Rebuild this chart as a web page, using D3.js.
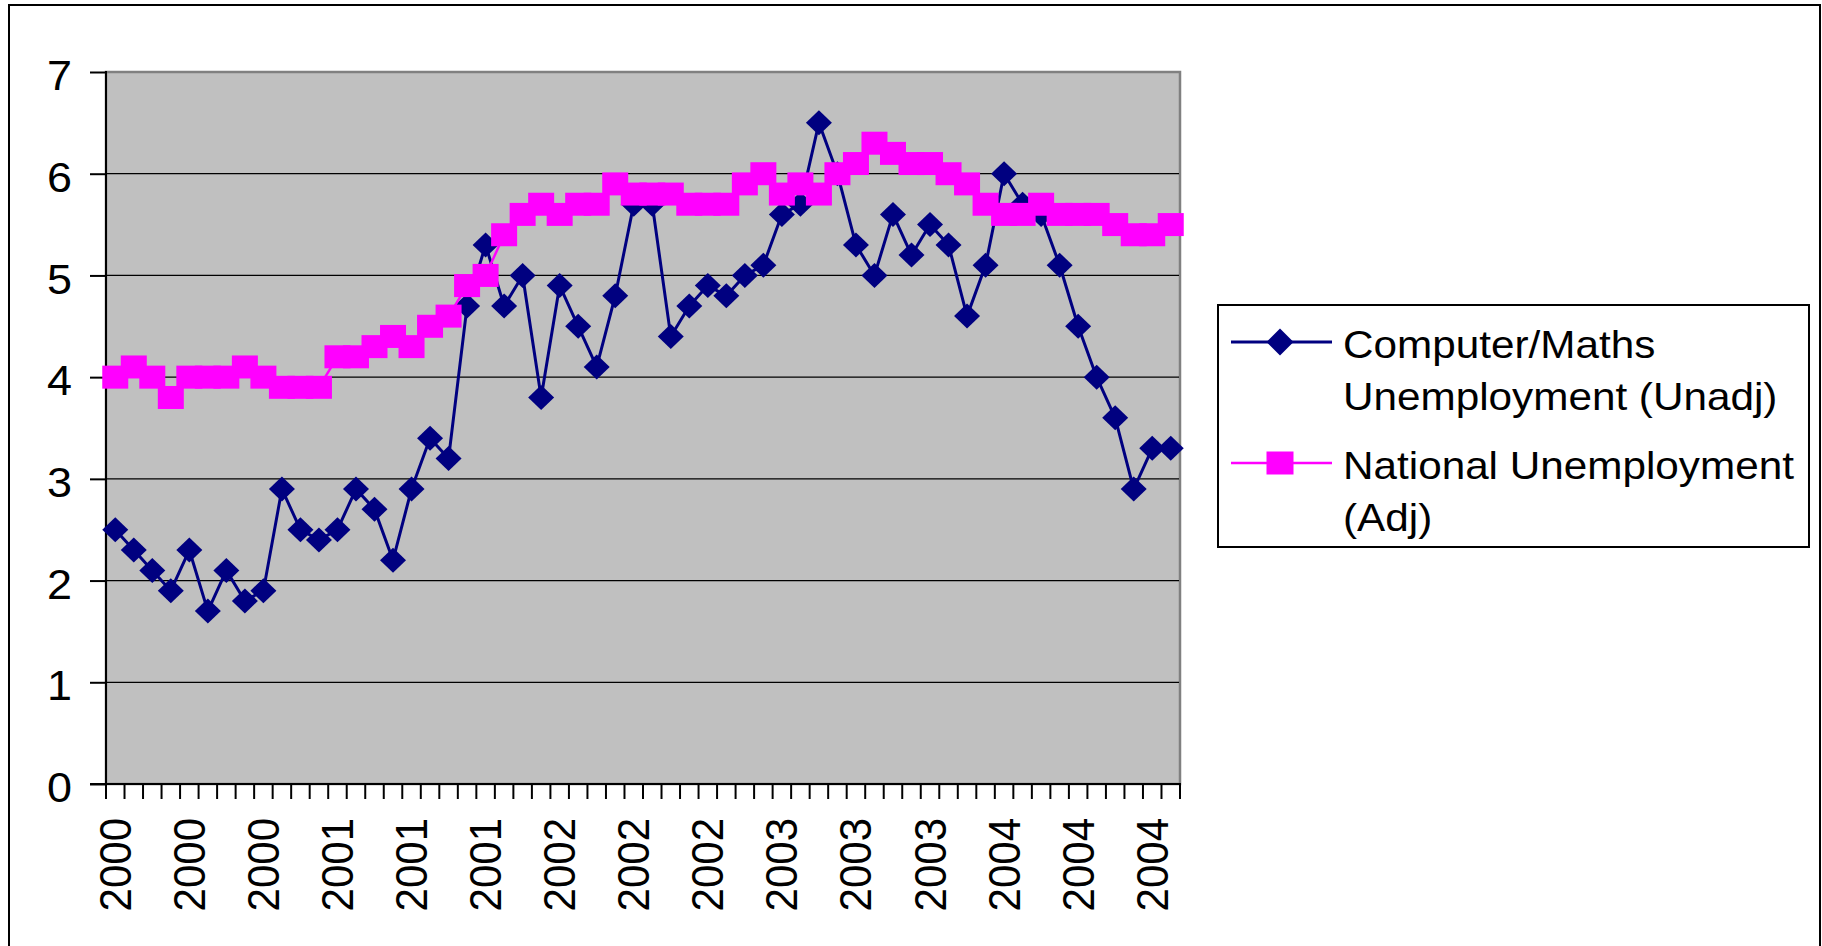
<!DOCTYPE html>
<html lang="en">
<head>
<meta charset="UTF-8">
<title>Computer/Maths vs National Unemployment</title>
<script src="https://d3js.org/d3.v7.min.js"></script>
<style>
    body { margin: 0; background: #fff; }
    svg text { font-family: "Liberation Sans", Arial, sans-serif; fill: #000; }
</style>
</head>
<body>
<svg width="1822" height="946"></svg>
<script>
// one category per month, Jan 2000 .. Oct 2004
var months = [
    "2000","2000","2000","2000","2000","2000","2000","2000","2000","2000","2000","2000",
    "2001","2001","2001","2001","2001","2001","2001","2001","2001","2001","2001","2001",
    "2002","2002","2002","2002","2002","2002","2002","2002","2002","2002","2002","2002",
    "2003","2003","2003","2003","2003","2003","2003","2003","2003","2003","2003","2003",
    "2004","2004","2004","2004","2004","2004","2004","2004","2004","2004"
];
var computerMaths = [
    2.5, 2.3, 2.1, 1.9, 2.3, 1.7, 2.1, 1.8, 1.9, 2.9, 2.5, 2.4,
    2.5, 2.9, 2.7, 2.2, 2.9, 3.4, 3.2, 4.7, 5.3, 4.7, 5.0, 3.8,
    4.9, 4.5, 4.1, 4.8, 5.7, 5.7, 4.4, 4.7, 4.9, 4.8, 5.0, 5.1,
    5.6, 5.7, 6.5, 6.0, 5.3, 5.0, 5.6, 5.2, 5.5, 5.3, 4.6, 5.1,
    6.0, 5.7, 5.6, 5.1, 4.5, 4.0, 3.6, 2.9, 3.3, 3.3
];
var national = [
    4.0, 4.1, 4.0, 3.8, 4.0, 4.0, 4.0, 4.1, 4.0, 3.9, 3.9, 3.9,
    4.2, 4.2, 4.3, 4.4, 4.3, 4.5, 4.6, 4.9, 5.0, 5.4, 5.6, 5.7,
    5.6, 5.7, 5.7, 5.9, 5.8, 5.8, 5.8, 5.7, 5.7, 5.7, 5.9, 6.0,
    5.8, 5.9, 5.8, 6.0, 6.1, 6.3, 6.2, 6.1, 6.1, 6.0, 5.9, 5.7,
    5.6, 5.6, 5.7, 5.6, 5.6, 5.6, 5.5, 5.4, 5.4, 5.5
];
var yTicks = [0, 1, 2, 3, 4, 5, 6, 7];
var labelEvery = 4;
var legendLines = [
    ["Computer/Maths", "Unemployment (Unadj)"],
    ["National Unemployment", "(Adj)"]
];

var navy = "#000080", magenta = "#ff00ff";
var stretch = 1.07;   // the original picture is slightly wider than tall
var plot = {left: 106, right: 1180, top: 72, bottom: 784};

var svg = d3.select("svg");

var x = d3.scaleBand().domain(d3.range(months.length)).range([plot.left, plot.right]);
var y = d3.scaleLinear().domain([0, 7]).range([plot.bottom, plot.top]);
function cx(i) { return x(i) + x.bandwidth() / 2; }

// outer frame (bottom edge is off the picture)
svg.append("rect")
    .attr("x", 9).attr("y", 5)
    .attr("width", 1811).attr("height", 1000)
    .attr("fill", "#fff").attr("stroke", "#000").attr("stroke-width", 2);

// plot area
svg.append("rect")
    .attr("x", plot.left).attr("y", plot.top)
    .attr("width", plot.right - plot.left).attr("height", plot.bottom - plot.top)
    .attr("fill", "#c0c0c0").attr("stroke", "#808080").attr("stroke-width", 2.5);

// gridlines
svg.append("g").selectAll("line")
    .data(yTicks.filter(function(d){ return d > 0 && d < 7; }))
    .enter().append("line")
    .attr("x1", plot.left).attr("x2", plot.right - 1)
    .attr("y1", function(d){ return y(d); })
    .attr("y2", function(d){ return y(d); })
    .attr("stroke", "#000").attr("stroke-width", 1.3);

// y axis
var yAxis = svg.append("g")
    .attr("transform", "translate(" + plot.left + ",0)")
    .call(d3.axisLeft(y).tickValues(yTicks).tickSize(16).tickPadding(15.8).tickFormat(d3.format("d")));
yAxis.select(".domain").remove();
yAxis.attr("font-family", null).attr("font-size", 42);
yAxis.selectAll(".tick line").attr("stroke", "#000").attr("stroke-width", 2);
yAxis.selectAll(".tick text")
    .attr("dy", "0.42em")
    .attr("transform", "scale(" + stretch + ",1)");

svg.append("line")
    .attr("x1", plot.left).attr("x2", plot.left)
    .attr("y1", plot.top - 1).attr("y2", plot.bottom)
    .attr("stroke", "#000").attr("stroke-width", 2);

// x axis: ticks between categories, labels on every 4th month
var bounds = months.map(function(m, i){ return x(i); }).concat([x.range()[1]]);
svg.append("g").selectAll("line")
    .data(bounds).enter().append("line")
    .attr("x1", function(d){ return d; }).attr("x2", function(d){ return d; })
    .attr("y1", plot.bottom).attr("y2", plot.bottom + 15)
    .attr("stroke", "#000").attr("stroke-width", 2);
svg.append("line")
    .attr("x1", plot.left - 16).attr("x2", plot.right + 1)
    .attr("y1", plot.bottom).attr("y2", plot.bottom)
    .attr("stroke", "#000").attr("stroke-width", 2);

svg.append("g").selectAll("text")
    .data(months.map(function(m, i){ return {label: m, i: i}; })
        .filter(function(d){ return d.i % labelEvery === 0; }))
    .enter().append("text")
    .attr("font-size", 42)
    .attr("text-anchor", "end")
    .attr("transform", function(d){
        return "translate(" + (cx(d.i) + 15.5) + "," + (plot.bottom + 34) + ") scale(" + stretch + ",1) rotate(-90)";
    })
    .text(function(d){ return d.label; });

// series
var line = d3.line()
    .x(function(d, i){ return cx(i); })
    .y(function(d){ return y(d); });

function diamond(w, h) {
    return "M0," + (-h) + "L" + w + ",0L0," + h + "L" + (-w) + ",0Z";
}

svg.append("path").datum(computerMaths)
    .attr("d", line).attr("fill", "none")
    .attr("stroke", navy).attr("stroke-width", 3).attr("stroke-linejoin", "round");
svg.append("g").selectAll("path")
    .data(computerMaths).enter().append("path")
    .attr("d", diamond(13, 12.5))
    .attr("transform", function(d, i){ return "translate(" + cx(i) + "," + y(d) + ")"; })
    .attr("fill", navy);

svg.append("path").datum(national)
    .attr("d", line).attr("fill", "none")
    .attr("stroke", magenta).attr("stroke-width", 2.5);
svg.append("g").selectAll("rect")
    .data(national).enter().append("rect")
    .attr("x", function(d, i){ return cx(i) - 13; })
    .attr("y", function(d){ return y(d) - 11.5; })
    .attr("width", 26).attr("height", 23)
    .attr("fill", magenta);

// legend
var legend = svg.append("g");
legend.append("rect")
    .attr("x", 1218).attr("y", 305).attr("width", 591).attr("height", 242)
    .attr("fill", "#fff").attr("stroke", "#000").attr("stroke-width", 2);

var entries = legend.selectAll("g.entry")
    .data(legendLines).enter().append("g")
    .attr("class", "entry")
    .attr("transform", function(d, i){ return "translate(0," + (342 + i * 121) + ")"; });

entries.append("line")
    .attr("x1", 1231).attr("x2", 1332).attr("y1", 0).attr("y2", 0)
    .attr("stroke", function(d, i){ return i === 0 ? navy : magenta; })
    .attr("stroke-width", function(d, i){ return i === 0 ? 3 : 2.5; });

entries.filter(function(d, i){ return i === 0; }).append("path")
    .attr("d", diamond(13.5, 13.5))
    .attr("transform", "translate(1280,0)")
    .attr("fill", navy);
entries.filter(function(d, i){ return i === 1; }).append("rect")
    .attr("x", 1280 - 13.5).attr("y", -11.5).attr("width", 27).attr("height", 23)
    .attr("fill", magenta);

entries.each(function(lines) {
    var g = d3.select(this);
    lines.forEach(function(t, k) {
        g.append("text")
            .attr("font-size", 39.5)
            .attr("transform", "translate(1343," + (16 + k * 52) + ") scale(" + stretch + ",1)")
            .text(t);
    });
});
</script>
</body>
</html>
